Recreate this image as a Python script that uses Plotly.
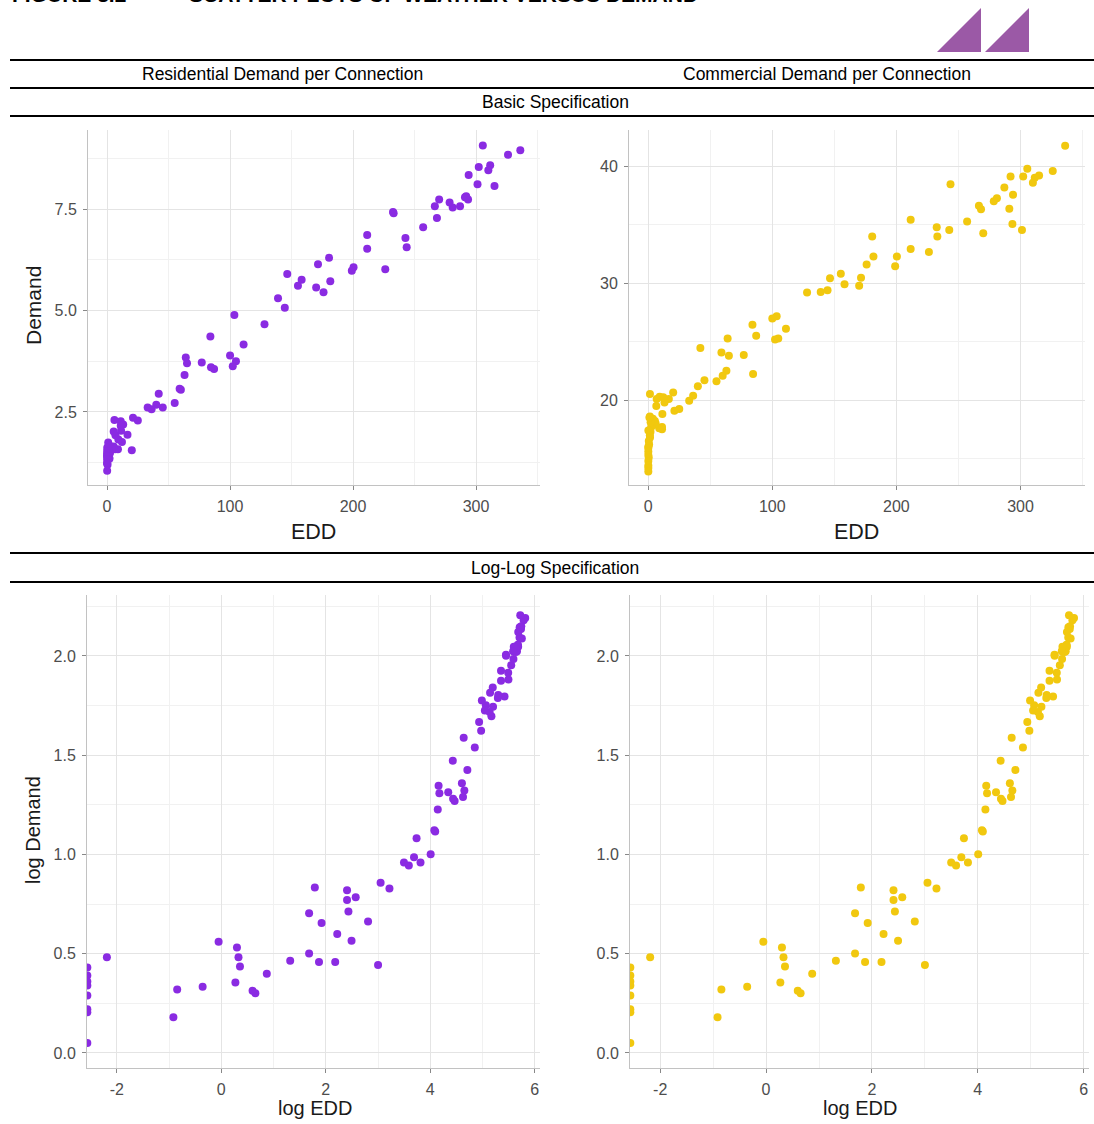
import numpy as np
import plotly.graph_objects as go

# ---------------- data ----------------
edd = [336, 326, 315, 311.5, 310, 305.5, 302.2, 301.2, 294, 293.5, 292, 291, 287, 281, 278.5,
       270, 268.2, 266.5, 257, 243.6, 242.6, 232.5, 233, 226.2, 211.5, 211.5, 200.4, 199,
       181.5, 180.5, 176, 171.5, 170, 158.2, 155.2, 146.5, 144.5, 139, 128, 111, 104.8, 103.5,
       102.2, 100,
       87, 84.5, 84, 77, 65, 64, 63, 60, 59, 55, 45.3, 42, 40, 36.2, 33,
       25.0, 21.1, 20.1, 16.6, 13.1, 12.1, 11.4, 11.1, 11.1, 9.2, 8.85, 6.82, 6.49, 5.99, 5.37,
       5.37, 3.74, 2.39, 1.92, 1.82, 1.43, 1.39, 1.35, 1.31, 0.95, 0.70, 0.43, 0.40, 0.112,
       0.077, 0.077, 0.077, 0.077, 0.077, 0.077, 0.077, 0.077]

res_demand = [8.95, 8.84, 8.07, 8.58, 8.46, 9.07, 8.54, 8.11, 8.34, 7.74, 7.82, 7.79, 7.57, 7.54, 7.66,
              7.74, 7.28, 7.57, 7.05, 6.56, 6.79, 7.43, 7.40, 6.02, 6.86, 6.52, 6.07, 5.98,
              5.72, 6.30, 5.45, 6.14, 5.57, 5.76, 5.61, 5.90, 5.07, 5.30, 4.66, 4.16, 3.75, 4.89,
              3.63, 3.89,
              3.56, 3.60, 4.36, 3.72, 3.70, 3.84, 3.41, 3.05, 3.07, 2.72, 2.61, 2.95, 2.68, 2.57, 2.61,
              2.29, 2.356, 1.557, 1.94, 2.19, 1.76, 2.04, 2.27, 2.16, 1.82, 1.58, 1.925, 1.58, 2.30, 2.02,
              1.65, 1.59, 1.49, 1.35, 1.368, 1.545, 1.62, 1.70, 1.426, 1.75, 1.395, 1.377, 1.197, 1.62,
              1.537, 1.477, 1.433, 1.405, 1.336, 1.246, 1.228, 1.051]

com_demand = [41.73, 39.58, 39.2, 39.0, 38.58, 39.77, 39.1, 34.53, 37.54, 35.04, 39.1, 36.35, 38.16, 37.25, 37.0,
              34.25, 36.3, 36.6, 35.27, 38.44, 34.53, 34.76, 33.97, 32.66, 35.4, 32.9, 32.27, 31.44,
              32.27, 33.97, 31.59, 30.45, 29.77, 29.89, 30.8, 30.4, 29.38, 29.24, 29.2, 26.09, 25.27, 27.17,
              25.18, 26.97,
              25.5, 22.22, 26.44, 23.85, 23.79, 25.27, 22.5, 22.08, 24.07, 21.6, 21.7, 24.44, 21.17, 20.37, 19.94,
              19.23, 19.09, 20.65, 20.09, 19.8, 20.23, 18.8, 17.5, 17.7, 20.28, 17.6, 20.09, 19.5, 18.0, 18.2,
              17.9, 18.4, 17.7, 18.1, 17.3, 16.8, 20.51, 18.6, 17.0, 18.5, 16.2, 16.5, 15.1, 17.4,
              16.0, 15.9, 15.6, 15.3, 14.8, 14.4, 14.2, 13.9]

log_edd = np.log(np.array(edd))
log_res = np.log(np.array(res_demand))

# tick labels / positions
edd_ticks = [0, 100, 200, 300]
edd_minor = [50, 150, 250, 350]
res_ticks = [2.5, 5.0, 7.5]
res_ticktext = ["2.5", "5.0", "7.5"]
res_minor = [1.25, 3.75, 6.25, 8.75]
com_ticks = [20, 30, 40]
com_minor = [15, 25, 35]
logx_ticks = [-2, 0, 2, 4, 6]
logx_ticktext = ["-2", "0", "2", "4", "6"]
logx_minor = [-1, 1, 3, 5]
logy_ticks = [0.0, 0.5, 1.0, 1.5, 2.0]
logy_ticktext = ["0.0", "0.5", "1.0", "1.5", "2.0"]
logy_minor = [0.25, 0.75, 1.25, 1.75, 2.25]

# ---------------- layout helpers ----------------
W, H = 1094, 1124
def px(x):
    return x / W
def py(y):
    return 1 - y / H

PURPLE = "#8A2BE2"
GOLD = "#F1C80F"
TICKFONT = dict(family="Liberation Sans, Arial, sans-serif", size=16, color="#4d4d4d")
TITLEFONT = dict(family="Liberation Sans, Arial, sans-serif", size=20, color="#1a1a1a")
HEADFONT = dict(family="Liberation Sans, Arial, sans-serif", size=17.5, color="#000000")

def axis(domain, rng, tickvals, ticktext, minor_vals, anchor):
    return dict(
        domain=domain, range=rng, anchor=anchor,
        tickmode="array", tickvals=tickvals, ticktext=ticktext,
        showgrid=True, gridcolor="#e4e4e4", gridwidth=1,
        minor=dict(tickmode="array", tickvals=minor_vals, showgrid=True,
                   gridcolor="#f1f1f1", gridwidth=1, ticks=""),
        showline=True, linecolor="#c2c2c2", linewidth=1,
        ticks="outside", ticklen=4, tickwidth=1, tickcolor="#888888",
        ticklabelstandoff=3,
        zeroline=False, tickfont=TICKFONT, fixedrange=True,
    )

fig = go.Figure()

marker_p = dict(color=PURPLE, size=8, line=dict(width=0))
marker_g = dict(color=GOLD, size=8, line=dict(width=0))

fig.add_trace(go.Scatter(x=edd, y=res_demand, mode="markers", marker=marker_p, xaxis="x", yaxis="y"))
fig.add_trace(go.Scatter(x=edd, y=com_demand, mode="markers", marker=marker_g, xaxis="x2", yaxis="y2"))
fig.add_trace(go.Scatter(x=log_edd, y=log_res, mode="markers", marker=marker_p, xaxis="x3", yaxis="y3"))
fig.add_trace(go.Scatter(x=log_edd, y=log_res, mode="markers", marker=marker_g, xaxis="x4", yaxis="y4"))

top_y = [py(485), py(130)]
bot_y = [py(1068), py(595)]
edd_range = [-15.5, 352]
logx_range = [-2.57, 6.1]
logy_range = [-0.076, 2.307]

fig.update_layout(
    width=W, height=H,
    margin=dict(l=0, r=0, t=0, b=0),
    paper_bgcolor="white", plot_bgcolor="white",
    showlegend=False,
    xaxis=axis([px(88), px(540)], edd_range, edd_ticks, [str(v) for v in edd_ticks], edd_minor, "y"),
    yaxis=axis(top_y, [0.70, 9.45], res_ticks, res_ticktext, res_minor, "x"),
    xaxis2=axis([px(629), px(1085)], edd_range, edd_ticks, [str(v) for v in edd_ticks], edd_minor, "y2"),
    yaxis2=axis(top_y, [12.74, 43.08], com_ticks, [str(v) for v in com_ticks], com_minor, "x2"),
    xaxis3=axis([px(87), px(540)], logx_range, logx_ticks, logx_ticktext, logx_minor, "y3"),
    yaxis3=axis(bot_y, logy_range, logy_ticks, logy_ticktext, logy_minor, "x3"),
    xaxis4=axis([px(630), px(1089)], logx_range, logx_ticks, logx_ticktext, logx_minor, "y4"),
    yaxis4=axis(bot_y, logy_range, logy_ticks, logy_ticktext, logy_minor, "x4"),
)

annotations = []
def ann(text, x, y, font, xanchor="center", yanchor="middle", textangle=0):
    annotations.append(dict(text=text, x=px(x), y=py(y), xref="paper", yref="paper",
                            xanchor=xanchor, yanchor=yanchor, showarrow=False,
                            font=font, textangle=textangle))

# figure title (cut off at top edge, as in the reference)
TITLE_BOLD = dict(family="Liberation Sans, Arial, sans-serif", size=21, color="#000000")
ann("<b>FIGURE 3.2</b>", 10, 8, TITLE_BOLD, xanchor="left", yanchor="bottom")
ann("<b>SCATTER PLOTS OF WEATHER VERSUS DEMAND</b>", 187, 8, TITLE_BOLD, xanchor="left", yanchor="bottom")

# strip headers
ann("Residential Demand per Connection", 282, 74, HEADFONT)
ann("Commercial Demand per Connection", 827, 74, HEADFONT)
ann("Basic Specification", 555, 102, HEADFONT)
ann("Log-Log Specification", 555, 568, HEADFONT)

# axis titles
ann("Demand", 33, 306, dict(TITLEFONT, size=21), textangle=-90)
ann("EDD", 313, 532, dict(TITLEFONT, size=21.5))
ann("EDD", 856, 532, dict(TITLEFONT, size=21.5))
ann("log Demand", 33, 830, TITLEFONT, textangle=-90)
ann("log EDD", 315, 1108, TITLEFONT)
ann("log EDD", 860, 1108, TITLEFONT)

fig.update_layout(annotations=annotations)

shapes = []
for yy in [60, 88, 116, 553, 582]:
    shapes.append(dict(type="line", xref="paper", yref="paper", x0=px(10), x1=1.0,
                       y0=py(yy), y1=py(yy), line=dict(color="black", width=2)))

# logo: two purple right triangles
for x0 in [937, 985]:
    path = "M {a},{b} L {c},{b} L {c},{d} Z".format(a=px(x0), b=py(52), c=px(x0 + 44), d=py(8))
    shapes.append(dict(type="path", xref="paper", yref="paper", path=path,
                       fillcolor="#9B59A6", line=dict(width=0)))

fig.update_layout(shapes=shapes)

fig.write_html(
    "out.html",
    config={"displayModeBar": False},
    post_script="document.body.style.margin='0';document.body.style.overflow='hidden';"
                "document.documentElement.style.overflow='hidden';",
)
